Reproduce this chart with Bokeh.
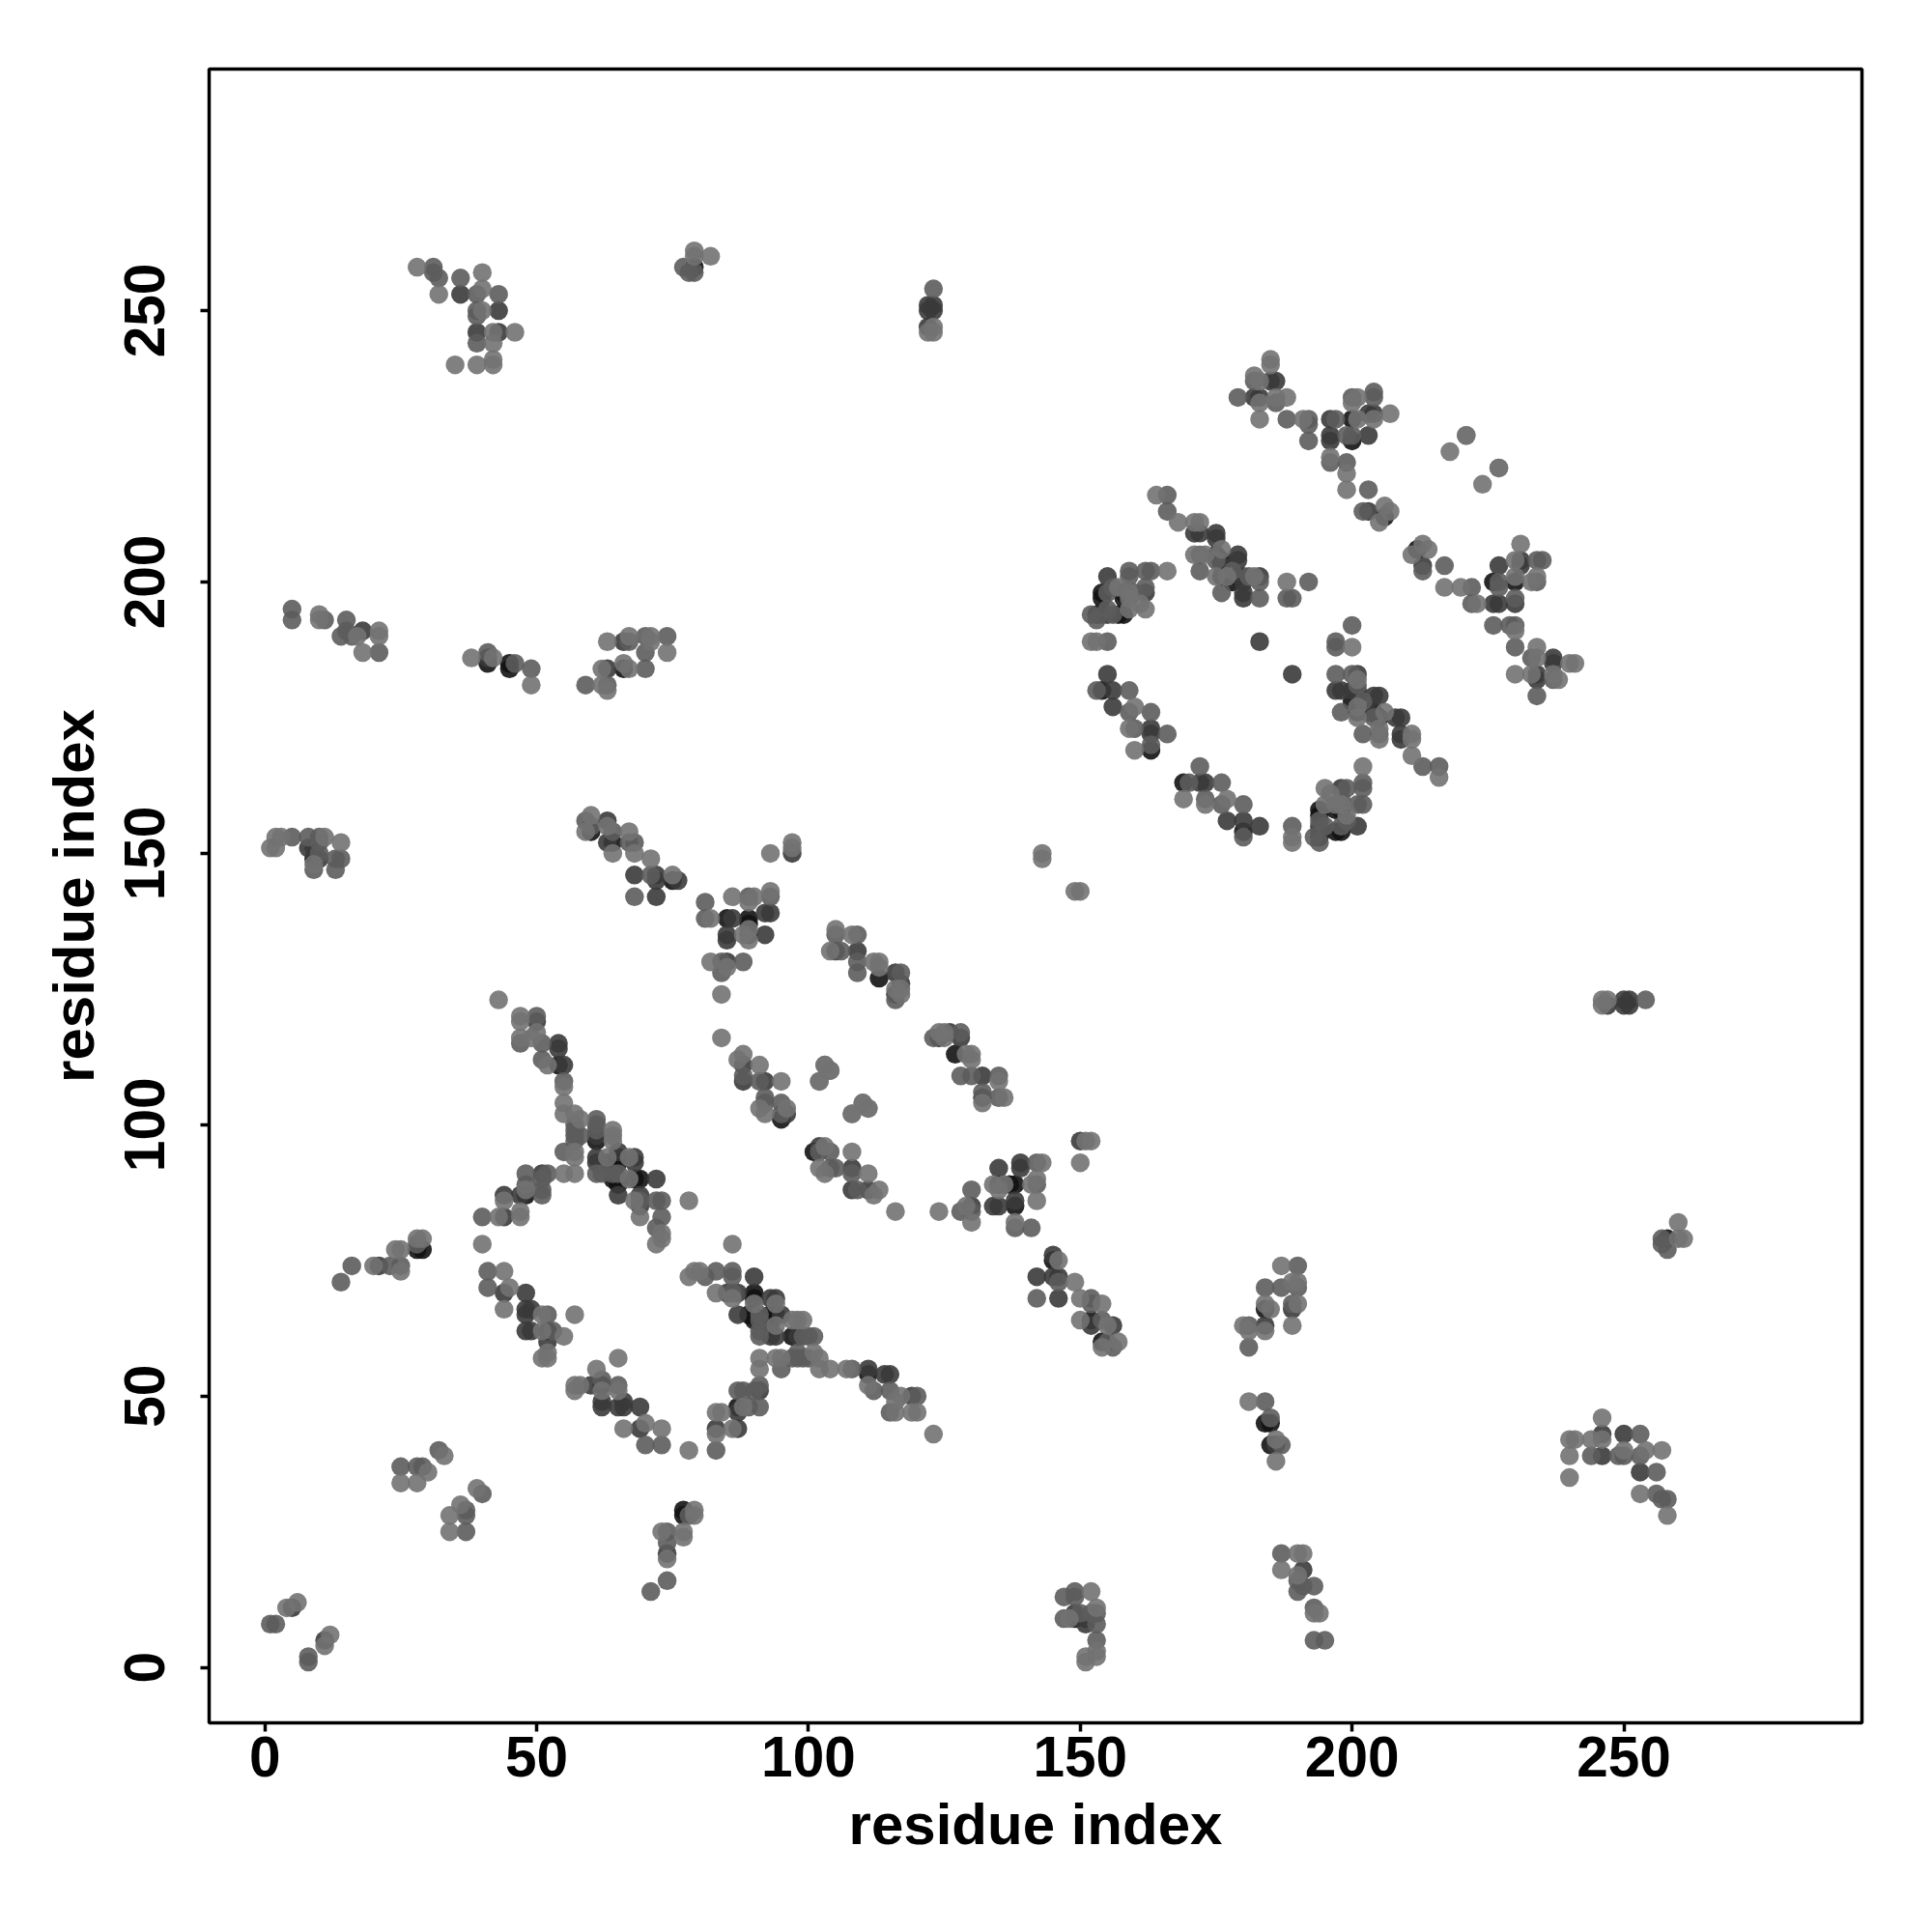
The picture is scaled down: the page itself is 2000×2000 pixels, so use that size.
from bokeh.plotting import figure
from bokeh.models import Range1d, FixedTicker
from bokeh.embed import file_html
from bokeh.resources import INLINE

tick_values = [0, 50, 100, 150, 200, 250]
axis_title = "residue index"

# contacts (residue i < residue j); the map is symmetric
light_contacts = [
 (28,258),(32,253),(40,257),(40,254),(40,250),(42,246),(46,246),(35,240),(39,240),(42,240),(42,241),(42,244),(79,261),(79,260),(82,260),
 (10,194),(10,193),(17,190),(21,191),(21,190),(18,187),(38,186),(42,186),(49,181),(63,189),(67,190),(71,190),(71,189),(74,187),(66,185),(67,184),(62,184),(62,181),(63,180),
 (1,151),(2,151),(2,153),(3,153),(11,153),(9,148),(14,152),(60,157),(59,154),(63,155),(64,150),(67,154),(68,150),(71,149),(75,146),(82,138),(86,142),(82,130),(85,129),(84,124),(84,116),
 (43,123),(47,120),(47,119),(50,117),(47,116),(49,116),(52,111),(55,107),(55,104),(55,102),(57,102),(58,101),(64,99),(64,98),(64,97),(57,95),(57,94),(63,94),(67,94),(67,90),(55,91),(57,91),
 (44,86),(48,88),(43,83),(47,83),(47,84),(40,78),(44,73),(45,70),(44,66),(51,65),(57,65),(51,62),(55,61),(52,58),(51,57),(52,57),(68,86),(78,86),(69,83),(73,80),(73,79),(72,78),
 (33,39),(30,36),(25,34),(28,34),(6,12),(4,11),(20,74),(24,77),(25,77),(25,73),(28,79),(29,79),
 (93,150),(97,152),(97,151),(90,142),(89,141),(93,143),(89,136),(89,134),(88,135),(105,136),(108,135),(104,132),(112,130),(113,130),(113,129),(116,125),(117,125),(117,124),
 (87,112),(88,113),(91,111),(95,108),(91,103),(92,102),(96,103),(103,111),(104,110),(102,108),(110,104),(111,103),(108,102),(143,150),(143,149),
 (122,246),(123,247),(123,246),
 (164,216),(168,211),(171,211),(172,211),(171,205),(173,205),(176,206),(175,201),(177,201),(182,201),(188,200),(159,198),(159,197),(157,199),(161,196),(166,202),(159,195),(162,195),(152,189),(153,189),(160,177),(159,173),(160,169),
 (185,241),(185,240),(182,238),(183,237),(183,233),(186,234),(188,234),(183,230),(191,230),(201,234),(200,233),(207,231),(204,230),(201,230),(196,223),(199,220),(199,217),(206,214),(207,213),(205,211),(221,227),(218,224),(227,221),
]
mid_contacts = [
 (31,258),(32,256),(31,257),(36,256),(39,253),(43,253),(39,250),(39,249),(39,244),(77,258),(79,257),(78,257),
 (5,195),(5,193),(11,193),(15,193),(14,190),(15,191),(16,190),(21,187),(41,187),(46,185),(49,184),(67,189),(70,190),(74,190),(70,187),(70,184),(59,181),(63,181),
 (5,153),(8,153),(10,153),(10,152),(10,150),(9,147),(13,149),(14,149),(13,147),(59,156),(60,155),(64,154),(68,152),(67,152),(71,146),(68,142),(81,141),(81,138),(84,130),(84,128),
 (50,120),(47,115),(51,115),(51,112),(55,108),(61,101),(61,100),(61,99),(57,100),(57,99),(57,98),(57,97),(58,98),(55,95),(48,91),(52,91),(61,91),(62,91),(64,91),(65,91),
 (48,89),(51,90),(69,86),(72,86),(73,86),(73,83),(72,81),(51,88),(51,87),(40,83),(41,73),(41,70),(52,65),(53,62),(32,40),(25,37),(28,37),(29,37),(1,8),(2,8),(14,71),(16,74),(25,74),(23,74),(28,78),
 (89,142),(93,142),(88,130),(105,135),(106,132),(109,135),(109,130),(109,128),(117,128),(116,123),(88,109),(91,108),(92,105),(92,104),(95,104),(95,102),
 (123,254),
 (166,216),(166,213),(172,205),(172,202),(175,204),(178,202),(181,201),(176,198),(183,200),(183,197),(159,202),(162,202),(163,202),(159,201),(155,198),(156,199),(160,198),(162,199),(152,194),(153,193),(155,195),(156,194),(155,189),(153,180),(159,180),(159,176),(163,176),(160,173),(166,172),(163,170),(192,200),(188,197),(189,197),
 (179,234),(182,237),(186,233),(188,230),(192,230),(192,229),(192,226),(197,230),(200,234),(204,235),(204,234),(200,227),(199,227),(196,222),(199,222),(203,217),(202,213),
]
dark_contacts = [
 (36,253),(43,250),(39,246),(43,246),(41,186),(66,189),(18,191),(63,184),
 (8,151),(9,151),(10,149),(63,156),(63,152),(68,146),(72,146),(72,145),(76,145),(72,142),(86,138),(85,135),(85,134),(85,130),(50,119),(54,115),(54,114),(55,111),(61,98),(61,94),(61,93),(65,95),(68,94),(68,93),(51,91),(72,90),
 (65,87),(69,87),(69,85),(44,87),(47,87),(44,83),(44,69),(48,69),(48,66),(49,66),(48,65),(48,62),(49,62),(52,60),(21,74),(5,11),
 (97,150),(92,139),(93,139),(89,135),(92,135),(105,132),(109,132),(116,128),(117,126),(116,124),(88,111),(88,108),(92,108),(96,102),
 (122,251),(123,251),(122,250),(123,250),(122,247),
 (171,209),(172,209),(175,209),(175,208),(176,203),(179,205),(179,204),(180,201),(180,200),(183,201),(180,198),(180,197),(183,189),(155,201),(162,198),(154,194),(155,194),(155,183),(156,180),(156,177),(163,173),(163,172),
 (185,237),(186,237),(182,234),(183,234),(196,230),(203,231),(204,231),(196,227),(196,226),(203,227),(203,213),
]
black_contacts = [
 (79,258),(45,185),(45,184),(41,185),(66,184),(60,154),(64,152),(9,149),(85,138),(75,145),(54,111),(61,98),(61,97),(63,93),(65,94),(65,93),(65,90),(65,89),(64,90),(68,90),(69,90),(48,87),(52,62),(28,77),(29,77),
 (89,138),(89,137),(113,127),(95,101),(175,205),(176,204),(176,201),(178,200),(179,201),(154,198),(154,197),(158,198),(158,197),(153,194),(157,194),(158,194),(154,180),(163,169),(200,230),(206,212),(200,226),
]
shade_colors = {"black": "#121212", "dark": "#3a3a3a", "mid": "#5c5c5c", "light": "#727272"}

p = figure(width=1984, height=1984, output_backend="svg", toolbar_location=None,
           x_range=Range1d(-10.25, 293.8), y_range=Range1d(-10.2, 294.5),
           min_border_left=216, min_border_right=57, min_border_top=71, min_border_bottom=201,
           background_fill_color="white", border_fill_color="white")
p.grid.visible = False
p.outline_line_color = "black"
p.outline_line_width = 3.5
p.outline_line_alpha = 1

for shade, contacts in (("black", black_contacts), ("dark", dark_contacts), ("mid", mid_contacts), ("light", light_contacts)):
    xs = [c[0] for c in contacts] + [c[1] for c in contacts]
    ys = [c[1] for c in contacts] + [c[0] for c in contacts]
    p.scatter(xs, ys, marker="circle", size=19.5, fill_color=shade_colors[shade], fill_alpha=0.9, line_color=None)

for ax in (p.xaxis[0], p.yaxis[0]):
    ax.ticker = FixedTicker(ticks=tick_values)
    ax.axis_label = axis_title
    ax.axis_line_color = None
    ax.major_tick_line_color = "black"
    ax.major_tick_line_width = 3.5
    ax.major_tick_in = 0
    ax.major_tick_out = 9
    ax.minor_tick_line_color = None
    ax.major_label_text_font = "Liberation Sans"
    ax.major_label_text_font_style = "bold"
    ax.major_label_text_font_size = "58.5px"
    ax.major_label_text_color = "black"
    ax.axis_label_text_font = "Liberation Sans"
    ax.axis_label_text_font_style = "bold"
    ax.axis_label_text_font_size = "60px"
    ax.axis_label_text_color = "black"
p.xaxis[0].major_label_standoff = 5
p.xaxis[0].axis_label_standoff = 13
p.yaxis[0].major_label_standoff = 37
p.yaxis[0].major_label_orientation = "vertical"
p.yaxis[0].axis_label_standoff = 17

open("out.html", "w").write(file_html(p, INLINE))
